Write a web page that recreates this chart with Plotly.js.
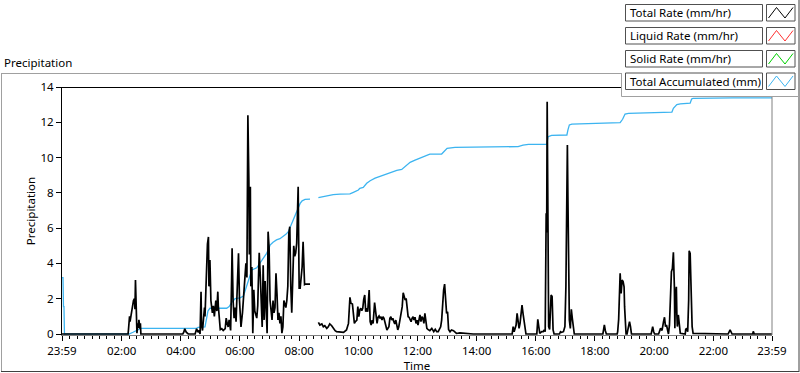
<!DOCTYPE html>
<html>
<head>
<meta charset="utf-8">
<script src="https://cdn.plot.ly/plotly-3.0.1.min.js"></script>
<style>html,body{margin:0;padding:0;background:#fff;}#chart{width:800px;height:373px;}</style>
</head>
<body>
<div id="chart"></div>
<script>
// ---- data (minutes relative to 00:00 of the plotted day; -1 = 23:59 previous day) ----
const rateMin = [
 -1,133,134,136,137,139,140,142,144,146,
 147,148,150,151,153,154,155,157,158,159,
 244,246,248,251,255,269,272,275,277,279,
 281,282,284,286,288,289,291,292,294,296,
 297,299,301,304,306,308,311,313,315,316,
 318,320,323,326,330,332,334,336,338,341,
 343,344,346,348,350,352,355,357,359,361,
 362,365,367,369,372,374,375,376,378,379,
 381,382,384,386,388,390,394,396,397,399,
 401,403,405,407,409,411,413,415,417,419,
 421,423,425,427,429,431,433,435,437,439,
 441,443,445,447,449,451,453,455,457,459,
 461,463,465,467,469,471,473,475,478,479,
 480,482,484,486,488,490,491,493,502,503,
 519,522,526,529,532,536,539,542,546,549,
 553,556,563,570,576,580,583,585,588,590,
 592,594,597,599,601,603,605,607,609,611,
 613,615,617,619,621,622,624,626,628,630,
 633,636,638,640,642,644,646,648,650,652,
 654,656,658,660,662,664,666,668,670,672,
 674,676,678,680,682,684,686,689,691,693,
 695,697,699,701,703,705,707,709,711,713,
 715,717,719,721,723,725,727,729,731,733,
 735,737,739,741,745,749,751,753,756,759,
 762,764,767,769,771,773,775,777,779,781,
 783,786,789,793,796,799,806,813,820,833,
 912,914,916,920,922,924,926,928,930,932,
 934,936,938,940,962,964,966,968,972,975,
 977,979,981,982,983,985,986,988,990,991,
 993,995,997,1008,1010,1012,1016,1019,1021,1022,
 1024,1025,1027,1028,1030,1032,1034,1036,1038,1096,
 1097,1099,1101,1103,1125,1126,1128,1130,1131,1133,
 1134,1135,1137,1139,1140,1141,1143,1145,1148,1150,
 1152,1154,1194,1195,1197,1199,1201,1209,1210,1213,
 1216,1217,1219,1221,1223,1225,1227,1229,1231,1233,
 1235,1237,1239,1241,1242,1243,1245,1246,1247,1249,
 1251,1253,1263,1264,1266,1268,1270,1271,1273,1275,
 1277,1279,1350,1354,1356,1358,1400,1401,1403,1439
];
const totalRate = [
 0,0,0.3,1.0,0.7,1.1,1.36,1.6,1.9,2.0,
 1.4,3.06,0.9,0.05,0.6,0.35,0.8,0.3,0.6,0,
 0,0.1,0.3,0.1,0,0,0.3,0.1,0.2,0,
 2.4,0.5,0.2,0.8,1.5,1.0,3.0,3.5,5.1,5.5,
 2.7,4.2,1.9,1.2,1.6,1.0,1.9,1.3,2.4,1.6,
 1.0,0.25,0.3,0.2,0.3,0.9,0.6,0.4,0.8,0.2,
 3.06,4.86,1.9,0.9,1.5,0.7,3.06,4.57,1.9,0.8,
 0.4,1.2,1.9,2.7,4.0,3.2,7.8,12.4,8.7,4.5,
 8.35,2.7,3.8,0.05,2.5,1.3,0.9,1.6,2.7,4.6,
 3.4,1.0,0.4,3.9,0.8,3.0,1.2,0.05,5.8,4.9,
 1.9,1.5,0.8,1.9,1.2,1.5,3.44,2.3,0.8,1.2,
 0.6,1.0,0.05,0.4,1.9,1.7,1.5,1.9,2.7,5.7,
 6.08,2.7,1.2,3.1,5.0,4.4,4.6,5.14,8.35,5.3,
 2.6,2.6,3.06,3.8,5.23,3.2,2.8,2.83,2.83,null,
 0.66,0.51,0.57,0.41,0.47,0.32,0.41,0.57,0.47,0.32,
 0.19,0.13,0.13,0.09,0.23,0.6,2.08,1.74,1.7,0.89,
 0.6,0.7,0.79,1.55,0.98,1.36,1.46,1.32,1.46,1.97,
 2.21,1.26,1.46,1.26,1.93,2.49,0.7,0.51,0.79,0.6,
 1.78,0.79,0.6,0.95,1.02,0.89,0.98,0.79,0.98,0.89,
 0.64,0.41,0.23,0.32,0.41,0.89,0.98,0.79,0.89,0.7,
 0.57,0.79,0.51,0.23,0.41,0.7,0.98,1.55,2.34,2.11,
 1.93,2.02,1.55,0.98,0.95,0.79,0.7,0.89,0.98,0.79,
 0.95,0.6,0.79,0.51,0.89,1.08,0.7,0.98,0.89,0.6,
 1.17,0.6,0.32,0.26,0.19,0.32,0.23,0.13,0.26,0.13,
 0.13,0.23,0.41,0.79,1.93,2.49,2.83,2.21,1.17,1.26,
 0.26,0.13,0.23,0.19,0.09,0.03,0.06,0.04,0.03,0,
 0,0.42,0.13,0.51,1.17,0.79,0.32,0.6,1.27,1.64,
 1.17,0.79,0.13,0,0,0.83,0.42,0.04,0.13,0.13,
 0.23,0.13,6.84,5.76,13.17,5.82,0.42,0.26,1.36,2.21,
 2.12,0.23,0,0,0.13,0.09,0.13,0.42,2.68,6.46,
 10.71,7.88,3.06,0.79,0.32,1.4,0.89,0.23,0,0,
 0.32,0.51,0.19,0,0,0.13,0.83,2.5,3.44,2.3,
 2.68,3.06,2.97,2.68,1.55,1.17,0,0,0.51,0.7,
 0.42,0,0,0.13,0.42,0.13,0,0,0.13,0.32,
 0.2,0.42,0.7,0.95,0.42,0.51,0.13,0,0.5,1.74,
 3.53,3.72,4.63,2.68,0.32,2.12,2.68,1.17,0.42,1.08,
 0.32,0.04,0,0.26,0.32,0.13,1.93,4.72,4.57,2.12,
 0.42,0.04,0,0.23,0.13,0,0,0.15,0,0
];
const accMin = [
 -1,1,2,3,4,135,143,151,159,272,
 275,289,292,295,299,319,333,338,343,350,
 360,367,370,374,381,384,394,399,404,409,
 414,418,421,427,434,441,448,453,458,461,
 465,470,475,479,482,486,492,502,503,519,
 528,539,549,563,583,590,600,603,610,617,
 624,634,647,664,678,688,693,698,705,715,
 729,739,745,769,773,776,780,796,847,924,
 934,945,982,984,985,992,1023,1025,1028,1033,
 1100,1131,1136,1141,1148,1195,1236,1239,1246,1253,
 1273,1276,1279,1360,1439
];
const totalAccum = [
 3.2,3.2,1.55,1.55,0,0,0.1,0.2,0.32,0.32,
 0.38,0.4,1.0,1.3,1.46,1.46,1.46,1.55,1.78,2.0,
 2.05,2.15,2.4,2.78,3.3,3.63,3.75,3.95,4.2,4.35,
 4.57,4.8,5.04,5.2,5.33,5.4,5.52,5.65,5.8,6.0,
 6.27,6.6,6.93,7.2,7.4,7.55,7.63,7.65,null,7.73,
 7.78,7.84,7.9,7.93,7.94,8.03,8.16,8.26,8.31,8.54,
 8.69,8.83,8.97,9.11,9.28,9.33,9.45,9.58,9.73,9.85,
 10.0,10.15,10.2,10.2,10.3,10.43,10.52,10.58,10.58,10.62,
 10.7,10.75,10.75,11.09,11.18,11.26,11.28,11.56,11.85,11.9,
 11.94,11.98,12.17,12.47,12.51,12.55,12.58,12.79,13.0,13.04,
 13.08,13.32,13.36,13.38,13.38
];
const tickMin = [-1,120,240,360,480,600,720,840,960,1080,1200,1320,1439];
const tickLabels = ["23:59","02:00","04:00","06:00","08:00","10:00","12:00","14:00","16:00","18:00","20:00","22:00","23:59"];
const yTicks = [0,2,4,6,8,10,12,14];
const legendNames = ["Total Rate (mm/hr)","Liquid Rate (mm/hr)","Solid Rate (mm/hr)","Total Accumulated (mm)"];
const legendColors = ["#000000","#ff3030","#00d000","#3cb4f0"];

// ---- helpers ----
const T0 = Date.UTC(2024, 2, 10);
function ts(m){ return new Date(T0 + m*60000).toISOString().slice(0,16).replace('T',' '); }
// pixel -> paper (plot area: x 62..772, y 87..335)
const PL=62, PR=772, PT=87, PB=335;
function X(px){ return (px-PL)/(PR-PL); }
function Y(py){ return (PB-py)/(PB-PT); }
function line(x0,y0,x1,y1,color,w){ return {type:'line',xref:'paper',yref:'paper',x0:X(x0),y0:Y(y0),x1:X(x1),y1:Y(y1),line:{color:color,width:w||1}}; }
function rect(x0,y0,x1,y1,color,fill,w){ return {type:'rect',xref:'paper',yref:'paper',x0:X(x0),y0:Y(y1),x1:X(x1),y1:Y(y0),line:{color:color,width:(w===undefined?1:w)},fillcolor:fill}; }

const FONT = 'Noto Sans, Segoe UI, sans-serif';

const traces = [
 {x: accMin.map(ts), y: totalAccum, type:'scatter', mode:'lines', line:{color:legendColors[3], width:1.3}, connectgaps:false, hoverinfo:'skip'},
 {x: rateMin.map(ts), y: totalRate, type:'scatter', mode:'lines', line:{color:'#000', width:1.7}, connectgaps:false, hoverinfo:'skip'}
];

const shapes = [];
const annotations = [];
// outer frame
shapes.push(line(1,73.5,799,73.5,'#a0a0a0'));
shapes.push(line(1.5,73,1.5,371.5,'#a0a0a0'));
shapes.push(line(1,371.5,799,371.5,'#404040'));
shapes.push(line(799,0,799,372,'#404040'));
// plot borders (top black, right grey)
shapes.push(line(62,87.5,772,87.5,'#000'));
shapes.push(line(772,87,772,335,'#808080'));
// legend panel
shapes.push(rect(621.5,-2,798.5,96.5,'rgba(0,0,0,0)','#ffffff',0));
shapes.push(line(621.5,73,621.5,96.5,'#a0a0a0'));
shapes.push(line(621.5,96.5,798.5,96.5,'#a0a0a0'));
shapes.push(line(798.5,0,798.5,96.5,'#a0a0a0'));
const itemTop = [4.5, 27.5, 50.5, 73];
legendNames.forEach((name,i)=>{
  const t = itemTop[i], b = t+16.5;
  shapes.push(rect(625.5,t,762.5,b,'#505050','#ffffff',1));
  shapes.push(rect(766.5,t,795,b,'#505050','#ffffff',1));
  const p = 'M '+X(768.5)+','+Y(b-3)+' L '+X(776.5)+','+Y(t+3)+' L '+X(785)+','+Y(b-3)+' L '+X(793)+','+Y(t+3);
  shapes.push({type:'path',xref:'paper',yref:'paper',path:p,line:{color:legendColors[i],width:1}});
  annotations.push({xref:'paper',yref:'paper',x:X(628),y:Y((t+b)/2),xanchor:'left',yanchor:'middle',text:name,showarrow:false,font:{family:FONT,size:11.5,color:'#000'}});
});

const layout = {
  width:800, height:373,
  margin:{l:PL, r:800-PR, t:PT, b:373-PB, pad:0},
  paper_bgcolor:'#ffffff', plot_bgcolor:'#ffffff',
  showlegend:false,
  font:{family:FONT, size:11.5, color:'#000'},
  title:{text:'Precipitation', xref:'container', yref:'container', x:4/800, xanchor:'left', y:1-63/373, yanchor:'middle', font:{family:FONT,size:11.5,color:'#000'}},
  xaxis:{
    type:'date', range:[ts(-1), ts(1439)], tickmode:'array', tickvals:tickMin.map(ts), ticktext:tickLabels,
    ticks:'outside', ticklen:5, tickwidth:1, tickcolor:'#000', showgrid:false, zeroline:false,
    showline:true, linecolor:'#808080', linewidth:1,
    minor:{ticks:'outside', ticklen:3, tickwidth:1, tickcolor:'#000', dtick:15*60*1000, tick0:ts(0), showgrid:false},
    title:{text:'Time', standoff:4, font:{family:FONT,size:11.5,color:'#000'}},
    automargin:false, fixedrange:true
  },
  yaxis:{
    range:[-1/17.643, 14], tickmode:'array', tickvals:yTicks,
    ticks:'outside', ticklen:5, tickwidth:1, tickcolor:'#000', showgrid:false, zeroline:false,
    showline:true, linecolor:'#000', linewidth:1,
    title:{text:'Precipitation', standoff:2, font:{family:FONT,size:11.5,color:'#000'}},
    automargin:false, fixedrange:true
  },
  shapes:shapes,
  annotations:annotations
};

Plotly.newPlot('chart', traces, layout, {displayModeBar:false, staticPlot:true});
</script>
</body>
</html>
